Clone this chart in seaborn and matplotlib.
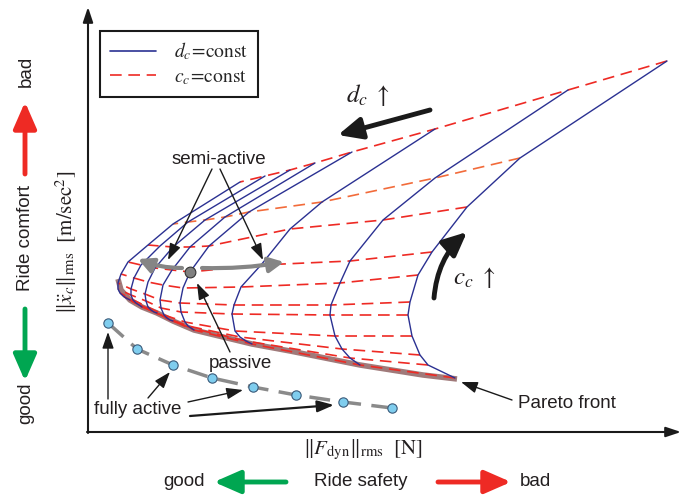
import numpy as np
import pandas as pd
import seaborn as sns
import matplotlib.pyplot as plt
from matplotlib.lines import Line2D

sns.set_theme(style='white')
plt.rcParams['font.family'] = ['Liberation Sans', 'DejaVu Sans']
plt.rcParams['mathtext.fontset'] = 'stix'

# grid (picture positions, converted below)
# rows: d_c = const curves (right -> left), columns: c_c levels (top -> bottom)
dc_x = [
    [667, 520, 467, 432, 418, 410, 408, 412, 420, 428, 455],
    [568, 435, 383, 350, 340, 331, 330, 335, 342, 350, 360],
    [435, 322, 290, 261, 241, 234, 232, 235, 240, 246, 252],
    [352, 249, 209, 190, 183, 180, 181, 185, 188, 191, 194],
    [315, 225, 190, 172, 163, 160, 161, 164, 167, 170, 173],
    [290, 205, 173, 155, 148, 145, 146, 148, 151, 154, 157],
    [265, 188, 160, 141, 134, 131, 131, 133, 136, 139, 142],
    [240, 173, 148, 128, 121, 118, 118, 120, 123, 126, 130],
]
dc_y = [
    [61, 158, 207, 252, 275, 302, 315, 336, 355, 365, 378],
    [90, 178, 220, 261, 283, 305, 315, 336, 349, 358, 365],
    [129, 202, 229, 265, 287, 305, 314, 331, 337, 341, 344],
    [152, 212, 246, 272, 288, 303, 312, 322, 326, 328, 330],
    [163, 217, 247, 270, 285, 300, 308, 315, 318, 320, 321],
    [170, 220, 247, 268, 282, 294, 301, 307, 310, 312, 313],
    [176, 222, 246, 265, 278, 289, 295, 300, 303, 305, 307],
    [182, 224, 245, 262, 274, 283, 289, 293, 296, 298, 300],
]
passive_idx = (3, 3)

pareto_x = [118, 121, 130, 142, 157, 173, 194, 223, 252, 290, 360, 423, 457]
pareto_y = [279, 290, 300, 307, 313, 321, 330, 337, 344, 351, 365, 375, 379]

active_x = [108, 137, 173, 212, 253, 296, 343, 392]
active_y = [323, 349, 365, 378, 387, 395, 402, 408]

# origin of the chart axes sits at (88, 432) in the picture
X0, Y0 = 88, 432


def P(px, py):
    return px - X0, Y0 - py


rows = []
for i in range(len(dc_x)):
    for j in range(len(dc_x[i])):
        rows.append(dict(curve=i, level=j, F=dc_x[i][j] - X0, acc=Y0 - dc_y[i][j]))
df = pd.DataFrame(rows)

navy = '#2b3192'
red = '#ee2a24'
orange = '#f26b3a'
green = '#00a651'
txt = '#231f20'

fig = plt.figure(figsize=(6.87, 4.95), dpi=100)
ax = fig.add_axes([0, 0, 1, 1])
ax.set_xlim(-X0, 687 - X0)
ax.set_ylim(Y0 - 495, Y0)
ax.axis('off')

# Pareto front
pf = pd.DataFrame({'F': np.array(pareto_x) - X0, 'acc': Y0 - np.array(pareto_y)})
sns.lineplot(data=pf, x='F', y='acc', sort=False, color='#a07a7a', lw=4, ax=ax,
             solid_capstyle='butt', zorder=2)

# c_c = const (red dashed)
red_df = df.sort_values(['level', 'curve'])
sns.lineplot(data=red_df[red_df.level != 1], x='F', y='acc', units='level',
             estimator=None, sort=False, color=red, lw=1.2,
             linestyle=(0, (7, 4)), ax=ax, zorder=3)
sns.lineplot(data=red_df[red_df.level == 1], x='F', y='acc', sort=False,
             color=orange, lw=1.2, linestyle=(0, (7, 4)), ax=ax, zorder=3)

# d_c = const (blue)
sns.lineplot(data=df, x='F', y='acc', units='curve', estimator=None, sort=False,
             color=navy, lw=1.0, ax=ax, zorder=4)

# fully active
fa = pd.DataFrame({'F': np.array(active_x) - X0, 'acc': Y0 - np.array(active_y)})
ax.plot(fa.F, fa.acc, color='#8a8a8a', lw=2.5, ls=(0, (6, 3)), zorder=5)
sns.scatterplot(data=fa, x='F', y='acc', s=45, color='#7fcdee', edgecolor='#3a5a7a',
                linewidth=0.8, ax=ax, zorder=6)

# passive point
pi, pj = passive_idx
ax.scatter(dc_x[pi][pj] - X0, Y0 - dc_y[pi][pj], s=60, color='#808080',
           edgecolor='#333333', linewidth=0.8, zorder=8)

# axes
ax_arrow = dict(arrowstyle='-|>,head_length=0.9,head_width=0.3', lw=1.5, color='k',
                shrinkA=0, shrinkB=0, mutation_scale=10)
ax.annotate('', xy=P(681, 432), xytext=P(87, 432), arrowprops=ax_arrow)
ax.annotate('', xy=P(88, 7), xytext=P(88, 433), arrowprops=ax_arrow)


def arrow(p0, p1, color='k', lw=1.0, hl=0.8, hw=0.3, ms=10, rad=0.0, z=7):
    ax.annotate('', xy=P(*p1), xytext=P(*p0), zorder=z,
                arrowprops=dict(arrowstyle=f'-|>,head_length={hl},head_width={hw}',
                                lw=lw, color=color, shrinkA=0, shrinkB=0,
                                mutation_scale=ms,
                                connectionstyle=f'arc3,rad={rad}'))


# d_c and c_c arrows
arrow((430, 110), (338, 135), lw=3.5, hl=1.2, hw=0.55, ms=12)
ax.text(*P(368, 95), r'$d_c\ \uparrow$', fontsize=18, ha='center', va='center', color=txt)
arrow((434, 298), (467, 232), lw=3.5, hl=1.2, hw=0.55, ms=12, rad=-0.2)
ax.text(*P(474, 278), r'$c_c\ \uparrow$', fontsize=18, ha='center', va='center', color=txt)

# semi-active
ax.text(*P(219, 160), 'semi-active', fontsize=13.5, ha='center', va='center', color=txt)
arrow((212, 169), (168, 260), hl=1.0, hw=0.35)
arrow((220, 169), (263, 260), hl=1.0, hw=0.35)
arrow((182, 268), (138, 259), color='#858585', lw=3, hl=0.9, hw=0.45, rad=-0.1, z=9)
arrow((202, 268), (284, 262), color='#858585', lw=3, hl=0.9, hw=0.45, rad=0.05, z=9)

# passive
ax.text(*P(240, 364), 'passive', fontsize=13.5, ha='center', va='center', color=txt)
arrow((230, 352), (197, 283), hl=1.0, hw=0.35)

# fully active
ax.text(*P(138, 410), 'fully active', fontsize=13.5, ha='center', va='center', color=txt)
arrow((108, 399), (108, 332), hl=1.0, hw=0.35)
arrow((148, 398), (170, 372), hl=1.0, hw=0.35)
arrow((188, 402), (243, 390), hl=1.0, hw=0.35)
arrow((190, 416), (334, 405), lw=1.6, hl=1.0, hw=0.35)

# Pareto front
ax.text(*P(567, 404), 'Pareto front', fontsize=13.5, ha='center', va='center', color=txt)
arrow((512, 400), (461, 382), hl=1.0, hw=0.35)

# axis labels
ax.text(*P(363, 450), r'$\Vert F_{\mathrm{dyn}}\Vert_{\mathrm{rms}}\ \ [\mathrm{N}]$',
        fontsize=15, ha='center', va='center', color=txt)
ax.text(*P(66, 242), r'$\Vert \ddot{x}_c\Vert_{\mathrm{rms}}\ \ [\mathrm{m/sec}^2]$',
        fontsize=15, ha='center', va='center', rotation=90, color=txt)

# ride comfort
ax.text(*P(26, 238), 'Ride comfort', fontsize=13.5, ha='center', va='center',
        rotation=90, color=txt)
ax.text(*P(26, 71), 'bad', fontsize=13.5, ha='center', va='center', rotation=90, color=txt)
ax.text(*P(26, 403), 'good', fontsize=13.5, ha='center', va='center', rotation=90, color=txt)
arrow((25, 174), (25, 102), color=red, lw=3.5, hl=1.6, hw=0.7, ms=10)
arrow((25, 309), (25, 381), color=green, lw=3.5, hl=1.6, hw=0.7, ms=10)

# ride safety
ax.text(*P(184, 482), 'good', fontsize=13.5, ha='center', va='center', color=txt)
ax.text(*P(361, 482), 'Ride safety', fontsize=13.5, ha='center', va='center', color=txt)
ax.text(*P(535, 482), 'bad', fontsize=13.5, ha='center', va='center', color=txt)
arrow((286, 482), (214, 482), color=green, lw=3.5, hl=1.6, hw=0.7, ms=10)
arrow((438, 482), (511, 482), color=red, lw=3.5, hl=1.6, hw=0.7, ms=10)

# legend
handles = [Line2D([], [], color=navy, lw=1.2),
           Line2D([], [], color=red, lw=1.2, ls=(0, (7, 4)))]
labels = [r'$d_c\!=\!\mathrm{const}$', r'$c_c\!=\!\mathrm{const}$']
leg = ax.legend(handles, labels, loc='upper left', bbox_to_anchor=(100 / 687, 1 - 31 / 495),
                borderaxespad=0, fancybox=False, edgecolor='k', framealpha=1,
                fontsize=14, handlelength=2.4, borderpad=0.5, labelspacing=0.3,
                handletextpad=0.9)
leg.get_frame().set_linewidth(1.5)

fig.savefig('out.png', dpi=100)
